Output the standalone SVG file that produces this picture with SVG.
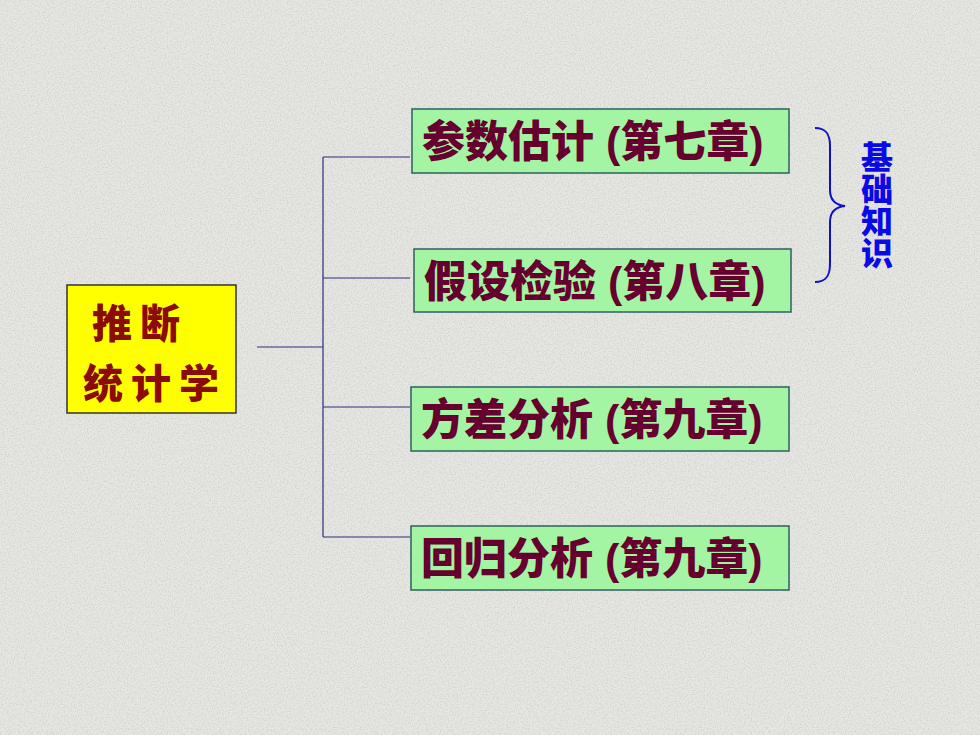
<svg xmlns="http://www.w3.org/2000/svg" width="980" height="735" viewBox="0 0 980 735">
<defs>
<filter id="noise" x="0" y="0" width="100%" height="100%">
<feTurbulence type="fractalNoise" baseFrequency="0.7" numOctaves="2" seed="3" result="t"/>
<feColorMatrix in="t" type="matrix" values="0 0 0 0 0.62  0 0 0 0 0.62  0 0 0 0 0.6  0 0 0 3 -1.25"/>
</filter>
<style>
.bg{fill:#E6E6E2}
.conn{stroke:#2E2E80;stroke-width:1.2;fill:none}
.green rect{fill:#A3F5A3;stroke:#2F5F5F;stroke-width:1.5}
.green text{font-family:"Liberation Sans","Noto Sans CJK SC",sans-serif;font-weight:900;font-size:43px;fill:#66002E}
.main rect{fill:#FFFF00;stroke:#333333;stroke-width:1.5}
.main text{font-family:"Noto Sans CJK SC",serif;font-weight:900;font-size:40px;fill:#8B0A0A}
.brace{stroke:#1010C8;stroke-width:2;fill:none}
.side{font-family:"Noto Sans CJK SC",sans-serif;font-weight:900;font-size:32px;fill:#0A0AE6;writing-mode:vertical-rl}
</style>
</defs>
<rect class="bg" width="980" height="735"/>
<rect width="980" height="735" filter="url(#noise)" opacity="0.7"/>
<g id="connectors">
<path class="conn" d="M257 347H323M323 157V537M323 157H410M323 278H410M323 407H410M323 537H410"/>
<path class="brace" d="M815 128C826 128 830 134 830 146V190C830 200 835 205 845 206C835 207 830 212 830 222V264C830 276 826 282 815 282"/>
</g>
<g id="node-main" class="main">
<rect x="67" y="285" width="169" height="128"/>
<text x="92" y="338" letter-spacing="8">推断</text>
<text x="83" y="398" letter-spacing="8">统计学</text>
</g>
<g id="node-1" class="green">
<rect x="412" y="109" width="377" height="64"/>
<text x="422" y="157">参数估计 (第七章)</text>
</g>
<g id="node-2" class="green">
<rect x="414" y="249" width="377" height="63"/>
<text x="424" y="297">假设检验 (第八章)</text>
</g>
<g id="node-3" class="green">
<rect x="411" y="387" width="378" height="64"/>
<text x="421" y="435">方差分析 (第九章)</text>
</g>
<g id="node-4" class="green">
<rect x="411" y="526" width="378" height="64"/>
<text x="421" y="574">回归分析 (第九章)</text>
</g>
<g id="label-basic">
<text class="side" x="877" y="141">基础知识</text>
</g>
</svg>
